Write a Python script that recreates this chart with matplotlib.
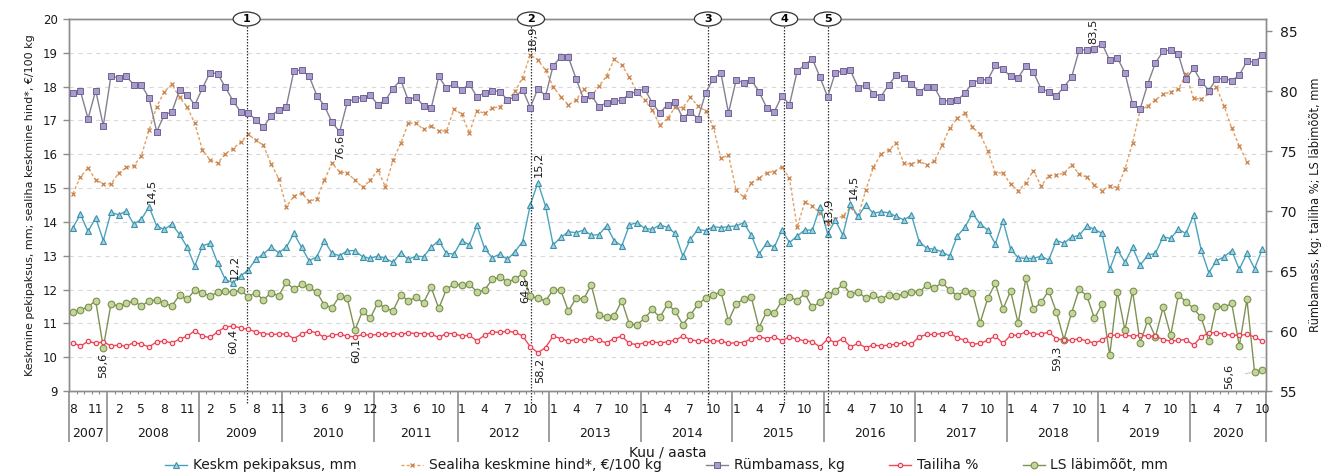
import numpy as np
import matplotlib
matplotlib.use("Agg")
import matplotlib.pyplot as plt
from matplotlib.patches import Ellipse
from matplotlib.transforms import blended_transform_factory

# ---------------- categories (month / year) ----------------
months_by_year = {
    2007: [8, 9, 10, 11, 12],
    2008: list(range(1, 13)),
    2009: list(range(1, 12)),
    2010: list(range(1, 13)),
    2011: [1, 2, 3, 4, 5, 6, 7, 9, 10, 11, 12],
    2012: list(range(1, 13)),
    2013: list(range(1, 13)),
    2014: list(range(1, 13)),
    2015: list(range(1, 13)),
    2016: list(range(1, 13)),
    2017: list(range(1, 13)),
    2018: list(range(1, 13)),
    2019: list(range(1, 13)),
    2020: list(range(1, 11)),
}

# ---------------- series (left axis) ----------------
pekipaksus = [
    13.83, 14.22, 13.72, 14.12, 13.45, 14.28, 14.21, 14.32, 13.93, 14.08,
    14.45, 13.88, 13.78, 13.93, 13.63, 13.25, 12.70, 13.29, 13.37, 12.78,
    12.30, 12.20, 12.40, 12.58, 12.89, 13.05, 13.25, 13.09, 13.25, 13.66,
    13.25, 12.85, 12.97, 13.44, 13.07, 13.00, 13.15, 13.15, 12.97, 12.92,
    12.99, 12.92, 12.80, 13.09, 12.89, 12.99, 12.97, 13.25, 13.45, 13.07,
    13.05, 13.45, 13.32, 13.90, 13.22, 12.94, 13.05, 12.89, 13.12, 13.42,
    14.50, 15.16, 14.47, 13.32, 13.54, 13.71, 13.68, 13.76, 13.61, 13.62,
    13.88, 13.45, 13.29, 13.91, 13.98, 13.81, 13.78, 13.91, 13.84, 13.66,
    12.99, 13.49, 13.78, 13.74, 13.86, 13.83, 13.86, 13.88, 13.98, 13.60,
    13.05, 13.37, 13.25, 13.76, 13.39, 13.58, 13.76, 13.76, 14.45, 13.65,
    14.05, 13.61, 14.53, 14.16, 14.50, 14.25, 14.30, 14.27, 14.16, 14.06,
    14.20, 13.42, 13.22, 13.19, 13.12, 12.99, 13.58, 13.84, 14.25, 13.94,
    13.76, 13.35, 14.04, 13.20, 12.94, 12.92, 12.92, 12.99, 12.87, 13.45,
    13.37, 13.55, 13.60, 13.88, 13.78, 13.66, 12.60, 13.19, 12.80, 13.25,
    12.72, 13.02, 13.07, 13.56, 13.51, 13.78, 13.66, 14.20, 13.17, 12.50,
    12.85, 12.97, 13.15, 12.60, 13.07, 12.62, 13.19,
]

sealiha_hind = [
    14.83, 15.33, 15.60, 15.24, 15.13, 15.12, 15.44, 15.61, 15.66, 15.96,
    16.72, 17.40, 17.85, 18.07, 17.68, 17.40, 16.91, 16.13, 15.83, 15.74,
    16.01, 16.17, 16.35, 16.59, 16.42, 16.26, 15.72, 15.28, 14.45, 14.76,
    14.85, 14.61, 14.68, 15.24, 15.74, 15.48, 15.44, 15.24, 15.02, 15.23,
    15.53, 15.04, 15.83, 16.32, 16.92, 16.92, 16.74, 16.84, 16.69, 16.69,
    17.33, 17.19, 16.62, 17.29, 17.21, 17.36, 17.41, 17.59, 17.86, 18.27,
    18.94, 18.79, 18.49, 18.00, 17.70, 17.46, 17.60, 17.92, 17.70, 18.02,
    18.31, 18.81, 18.64, 18.28, 17.85, 17.60, 17.31, 16.86, 17.06, 17.39,
    17.38, 17.68, 17.43, 17.28, 16.82, 15.88, 15.98, 14.94, 14.73, 15.16,
    15.29, 15.46, 15.49, 15.63, 15.29, 13.84, 14.58, 14.48, 14.25, 13.98,
    14.10, 14.17, 14.43, 14.16, 14.94, 15.61, 16.01, 16.13, 16.32, 15.73,
    15.71, 15.81, 15.68, 15.80, 16.26, 16.77, 17.06, 17.21, 16.80, 16.60,
    16.11, 15.46, 15.44, 15.12, 14.92, 15.16, 15.52, 15.06, 15.37, 15.39,
    15.44, 15.68, 15.42, 15.32, 15.09, 14.92, 15.07, 15.01, 15.56, 16.34,
    17.31, 17.43, 17.61, 17.77, 17.85, 17.92, 18.37, 17.65, 17.63, 17.80,
    17.98, 17.43, 16.77, 16.25, 15.78,
]

# ---------------- series (right axis) ----------------
rumbamass = [
    79.84, 79.98, 77.70, 80.04, 77.11, 81.24, 81.10, 81.21, 80.54, 80.51,
    79.40, 76.61, 78.00, 78.26, 80.09, 79.70, 78.84, 80.23, 81.54, 81.43,
    80.32, 79.20, 78.26, 78.20, 77.59, 76.97, 77.95, 78.40, 78.70, 81.68,
    81.74, 81.24, 79.62, 78.76, 77.39, 76.60, 79.06, 79.37, 79.45, 79.65,
    78.87, 79.23, 80.20, 80.93, 79.23, 79.51, 78.76, 78.56, 81.21, 80.23,
    80.62, 80.07, 80.60, 79.51, 79.87, 80.04, 79.95, 79.29, 79.48, 80.12,
    78.62, 80.20, 79.59, 82.10, 82.85, 82.82, 81.04, 79.34, 79.65, 78.70,
    79.01, 79.15, 79.23, 79.76, 79.95, 80.18, 79.01, 78.17, 78.87, 79.06,
    77.75, 78.26, 77.70, 79.84, 81.04, 81.51, 78.17, 80.90, 80.70, 80.93,
    79.95, 78.62, 78.26, 79.59, 78.87, 81.63, 82.18, 82.68, 81.15, 79.51,
    81.51, 81.68, 81.71, 80.29, 80.51, 79.79, 79.54, 80.51, 81.32, 81.07,
    80.60, 79.95, 80.32, 80.32, 79.15, 79.20, 79.23, 79.82, 80.70, 80.93,
    80.93, 82.13, 81.82, 81.21, 81.10, 82.10, 81.57, 80.18, 79.95, 79.59,
    80.34, 81.15, 83.43, 83.43, 83.52, 83.94, 82.57, 82.77, 81.51, 78.90,
    78.53, 80.60, 82.35, 83.30, 83.43, 83.05, 80.96, 81.90, 80.79, 80.04,
    81.01, 81.04, 80.87, 81.32, 82.49, 82.40, 82.99,
]

tailiha = [
    59.04, 58.73, 59.15, 58.96, 59.10, 58.76, 58.82, 58.73, 59.04, 58.90,
    58.68, 59.10, 59.15, 59.01, 59.32, 59.57, 60.02, 59.57, 59.46, 59.93,
    60.35, 60.40, 60.27, 60.13, 59.93, 59.79, 59.71, 59.74, 59.74, 59.37,
    59.74, 59.99, 59.85, 59.46, 59.65, 59.74, 59.57, 59.51, 59.71, 59.65,
    59.71, 59.74, 59.79, 59.71, 59.85, 59.79, 59.79, 59.74, 59.46, 59.79,
    59.79, 59.57, 59.65, 59.18, 59.65, 59.93, 59.88, 59.99, 59.88, 59.60,
    58.68, 58.20, 58.62, 59.57, 59.37, 59.15, 59.29, 59.23, 59.43, 59.23,
    59.01, 59.37, 59.57, 58.96, 58.87, 59.01, 59.10, 59.01, 59.10, 59.23,
    59.57, 59.29, 59.15, 59.23, 59.15, 59.18, 58.96, 59.04, 59.04, 59.37,
    59.51, 59.37, 59.51, 59.18, 59.51, 59.32, 59.18, 59.10, 58.68, 59.32,
    59.04, 59.37, 58.68, 58.96, 58.62, 58.82, 58.76, 58.82, 58.90, 59.01,
    58.90, 59.51, 59.71, 59.71, 59.79, 59.85, 59.43, 59.23, 58.90, 58.96,
    59.23, 59.58, 58.96, 59.65, 59.65, 59.93, 59.74, 59.74, 59.90, 59.37,
    59.23, 59.23, 59.37, 59.15, 59.01, 59.23, 59.65, 59.65, 59.65, 59.57,
    59.65, 59.57, 59.57, 59.29, 59.15, 59.23, 59.29, 58.82, 59.51, 59.85,
    59.85, 59.74, 59.65, 59.65, 59.71, 59.51, 59.15,
]

ls_labimoot = [
    61.60, 61.74, 62.02, 62.52, 58.62, 62.24, 62.08, 62.30, 62.49, 62.08,
    62.52, 62.58, 62.30, 62.08, 63.00, 62.63, 63.41, 63.19, 62.91, 63.22,
    63.33, 63.22, 63.41, 62.86, 63.19, 62.58, 63.19, 62.94, 64.05, 63.50,
    63.89, 63.64, 63.22, 62.16, 61.94, 62.91, 62.71, 60.07, 61.66, 61.05,
    62.35, 61.88, 61.69, 63.00, 62.52, 62.80, 62.35, 63.64, 61.88, 63.47,
    63.91, 63.83, 63.91, 63.27, 63.41, 64.30, 64.47, 64.11, 64.30, 64.80,
    62.90, 62.72, 62.52, 63.41, 63.41, 61.66, 62.72, 62.66, 63.83, 61.32,
    61.13, 61.24, 62.52, 60.57, 60.54, 61.05, 61.80, 61.13, 62.24, 61.66,
    60.54, 61.32, 62.24, 62.72, 63.00, 63.27, 60.85, 62.24, 62.66, 62.80,
    60.27, 61.60, 61.46, 62.52, 62.86, 62.52, 63.13, 61.96, 62.44, 63.00,
    63.33, 63.89, 63.08, 63.27, 62.72, 63.00, 62.66, 63.00, 62.94, 63.08,
    63.27, 63.22, 63.83, 63.55, 64.05, 63.41, 62.94, 63.33, 63.19, 60.68,
    62.72, 63.97, 61.83, 63.33, 60.63, 64.39, 61.83, 62.38, 63.36, 61.60,
    59.29, 61.52, 63.47, 62.94, 61.05, 62.24, 57.98, 63.27, 60.07, 63.33,
    59.01, 60.91, 59.51, 61.96, 59.65, 63.00, 62.44, 61.88, 61.13, 59.15,
    62.08, 61.96, 62.30, 58.76, 62.63, 56.59, 56.79,
]

series_names = ["Keskm pekipaksus, mm", "Sealiha keskmine hind*, €/100 kg",
                "Rümbamass, kg", "Tailiha %", "LS läbimõõt, mm"]

# event markers (position on category axis, label)
event_pos = [22.8, 60.1, 83.3, 93.3, 99.0]
event_labels = ["1", "2", "3", "4", "5"]

# data labels: (series, index, text, dx px, dy px)
data_labels = [
    ("pek", 10, "14,5", 3, 15),
    ("pek", 21, "12,2", 2, 15),
    ("pek", 61, "15,2", 1, 18),
    ("pek", 99, "13,9", 1, 23),
    ("pek", 102, "14,5", 3, 17),
    ("hind", 60, "18,9", 2, 17),
    ("rum", 35, "76,6", 0, -16),
    ("rum", 134, "83,5", -1, 17),
    ("tai", 21, "60,4", 0, -15),
    ("tai", 61, "58,2", 2, -18),
    ("ls", 4, "58,6", 0, -18),
    ("ls", 37, "60,1", 1, -20),
    ("ls", 59, "64,8", 3, -17),
    ("ls", 130, "59,3", -7, -19),
]
leader_labels = [("ls", 155, "56,6", -25, -5)]

# ---------------- build ----------------
cats = [(y, m) for y in months_by_year for m in months_by_year[y]]
n = len(cats)
x = np.arange(n)

def padded(v):
    a = np.full(n, np.nan)
    a[:len(v)] = v
    return a

pek = np.array(pekipaksus)
hind = padded(sealiha_hind)
rum = np.array(rumbamass)
tai = np.array(tailiha)
ls = np.array(ls_labimoot)

fig = plt.figure(figsize=(13.36, 4.73), dpi=100)
W, H = 1336, 473
ax = fig.add_axes([69 / W, 1 - 391 / H, (1266 - 69) / W, (391 - 19) / H])
ax2 = ax.twinx()

spine_c = "#8c8c8c"
txt_c = "#1a1a1a"

l_pek, = ax.plot(x, pek, color="#4aa3bd", lw=1.0, marker="^", ms=4.6,
                 mfc="#9dd4e4", mec="#3f90a9", mew=0.8, zorder=4)
l_hind, = ax.plot(x, hind, color="#e2a062", lw=1.0, ls=(0, (2.2, 1.6)),
                  marker="x", ms=3.2, mec="#c8814a", mew=0.9, zorder=3)
l_rum, = ax2.plot(x, rum, color="#85808f", lw=1.0, marker="s", ms=4.4,
                  mfc="#a99cca", mec="#6e6196", mew=0.7, zorder=3)
l_tai, = ax2.plot(x, tai, color="#ef4b5c", lw=1.0, marker="o", ms=3.2,
                  mfc="#ffe3e6", mec="#e63a4f", mew=0.8, zorder=4)
l_ls, = ax2.plot(x, ls, color="#7f9254", lw=1.0, marker="o", ms=4.8,
                 mfc="#c3d69b", mec="#7c8f4f", mew=0.8, zorder=3)

ax.set_xlim(-0.5, n - 0.5)
ax.set_ylim(9, 20)
ax2.set_ylim(55, 86)
ax.set_yticks(range(9, 21))
ax2.set_yticks(range(55, 86, 5))

ax.yaxis.grid(True, linestyle=(0, (4, 4)), color="#d9d9d9", lw=0.8)
ax.set_axisbelow(True)

for a in (ax, ax2):
    for s in a.spines.values():
        s.set_color(spine_c)
        s.set_linewidth(1.0)
ax.tick_params(axis="y", direction="out", length=4, width=1, color=spine_c,
               labelsize=8.5, labelcolor=txt_c, pad=4)
ax2.tick_params(axis="y", direction="out", length=4, width=1, color=spine_c,
                labelsize=10, labelcolor=txt_c, pad=6)

# x axis: minor ticks at every category boundary, long separators at years
bounds = np.arange(n + 1) - 0.5
year_list = list(months_by_year.keys())
year_bounds = [-0.5]
acc = -0.5
for y in year_list:
    acc += len(months_by_year[y])
    year_bounds.append(acc)
ax.set_xticks(year_bounds)
ax.set_xticks(bounds, minor=True)
ax.tick_params(axis="x", which="major", direction="out", length=36.5,
               width=1.2, color=spine_c, labelbottom=False)
ax.tick_params(axis="x", which="minor", direction="out", length=2.5,
               width=0.8, color=spine_c)

tr = blended_transform_factory(ax.transData, ax.transAxes)
for i, (y, m) in enumerate(cats):
    if i % 3 == 0:
        ax.text(i, -0.049, str(m), transform=tr, ha="center", va="center",
                fontsize=8.8, color=txt_c)
for k, y in enumerate(year_list):
    c = (year_bounds[k] + year_bounds[k + 1]) / 2
    ax.text(c, -0.113, str(y), transform=tr, ha="center", va="center",
            fontsize=9, color=txt_c)

# event lines with circled numbers
for p, lab in zip(event_pos, event_labels):
    ax.plot([p, p], [-0.032, 1.0], transform=tr, color="#333333", lw=0.9,
            ls=(0, (1.2, 1.2)), clip_on=False, zorder=6)
    px_, py_ = tr.transform((p, 1.0))
    ell = Ellipse((px_ / W, py_ / H), 27 / W, 14 / H, transform=fig.transFigure,
                  fc="white", ec="#333333", lw=0.9, zorder=20)
    fig.add_artist(ell)
    fig.text(px_ / W, py_ / H, lab, ha="center", va="center", fontsize=8,
             fontweight="bold", color="black", zorder=21)

# data labels
series_map = {"pek": (ax, pek), "hind": (ax, hind), "rum": (ax2, rum),
              "tai": (ax2, tai), "ls": (ax2, ls)}
for key, i, t, dx, dy in data_labels:
    a, arr = series_map[key]
    a.annotate(t, xy=(i, arr[i]), xytext=(dx, dy), textcoords="offset pixels",
               rotation=90, ha="center", va="center", fontsize=8.2,
               color=txt_c, zorder=8)
for key, i, t, dx, dy in leader_labels:
    a, arr = series_map[key]
    a.annotate(t, xy=(i, arr[i]), xytext=(dx, dy), textcoords="offset pixels",
               rotation=90, ha="center", va="center", fontsize=8.2,
               color=txt_c, zorder=8,
               arrowprops=dict(arrowstyle="-", color="#c8c8c8", lw=0.8,
                               shrinkA=6, shrinkB=3))

ax.set_ylabel("Keskmine pekipaksus, mm; sealiha keskmine hind*, €/100 kg",
              fontsize=8, color=txt_c, labelpad=6)
ax2.set_ylabel("Rümbamass, kg; tailiha %; LS läbimõõt, mm",
               fontsize=8.3, color=txt_c, labelpad=8)

fig.text(0.5, 1 - 452 / H, "Kuu / aasta", ha="center", va="center",
         fontsize=10, color=txt_c)

handles = [l_pek, l_hind, l_rum, l_tai, l_ls]
fig.legend(handles, series_names, loc="center", bbox_to_anchor=(0.499, 0.016),
           ncol=5, frameon=False, fontsize=10, handlelength=1.6,
           handletextpad=0.4, columnspacing=3.2, labelcolor=txt_c)

fig.savefig("out.png", dpi=100)
